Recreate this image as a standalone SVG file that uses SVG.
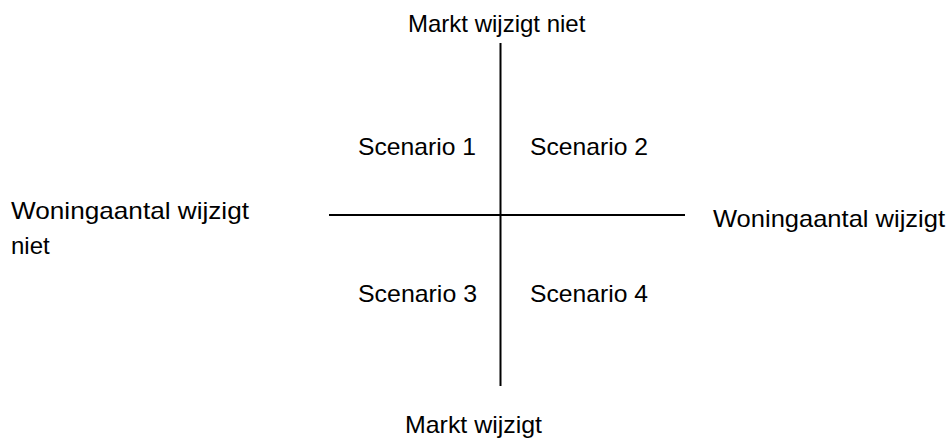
<svg xmlns="http://www.w3.org/2000/svg" width="946" height="441" viewBox="0 0 946 441">
  <style>
    .lbl { font-family: "Liberation Sans", Arial, sans-serif; font-size: 24px; fill: #000; }
    .axis { stroke: #000; stroke-width: 2; fill: none; }
  </style>
  <rect width="946" height="441" fill="#fff"/>
  <g id="connectors">
    <line class="axis" x1="500.5" y1="43" x2="500.5" y2="386"/>
    <line class="axis" x1="329" y1="215" x2="685" y2="215"/>
  </g>
  <g id="top"><text class="lbl" x="408" y="32">Markt wijzigt niet</text></g>
  <g id="bottom"><text class="lbl" x="405" y="433" textLength="137" lengthAdjust="spacingAndGlyphs">Markt wijzigt</text></g>
  <g id="left">
    <text class="lbl" x="11" y="219" textLength="238" lengthAdjust="spacingAndGlyphs">Woningaantal wijzigt</text>
    <text class="lbl" x="11" y="254">niet</text>
  </g>
  <g id="right"><text class="lbl" x="713" y="227" textLength="232" lengthAdjust="spacingAndGlyphs">Woningaantal wijzigt</text></g>
  <g id="s1"><text class="lbl" x="358" y="155" textLength="118" lengthAdjust="spacingAndGlyphs">Scenario 1</text></g>
  <g id="s2"><text class="lbl" x="530" y="155" textLength="118" lengthAdjust="spacingAndGlyphs">Scenario 2</text></g>
  <g id="s3"><text class="lbl" x="358" y="302" textLength="119" lengthAdjust="spacingAndGlyphs">Scenario 3</text></g>
  <g id="s4"><text class="lbl" x="530" y="302" textLength="118" lengthAdjust="spacingAndGlyphs">Scenario 4</text></g>
</svg>
